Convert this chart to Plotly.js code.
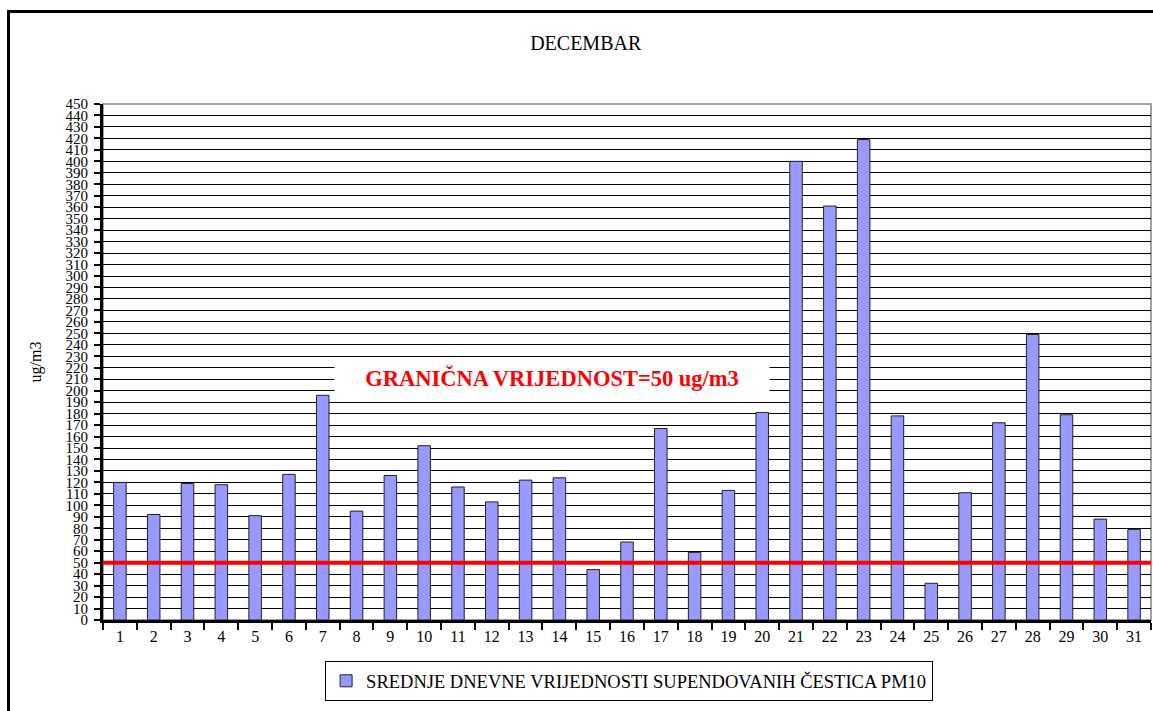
<!DOCTYPE html>
<html>
<head>
<meta charset="utf-8">
<script src="https://cdn.plot.ly/plotly-3.0.1.min.js"></script>
<style>
html,body{margin:0;padding:0;background:#fff;}
#chart{width:1153px;height:711px;}
#chart text{font-family:"Liberation Serif","Times New Roman",serif !important;}
</style>
</head>
<body>
<div id="chart"></div>
<script>
// ---- data ----
const days = ["1","2","3","4","5","6","7","8","9","10","11","12","13","14","15","16","17","18","19","20","21","22","23","24","25","26","27","28","29","30","31"];
const pm10 = [120,92,119,118,91,127,196,95,126,152,116,103,122,124,44,68,167,59,113,181,400,361,419,178,32,111,172,249,179,88,79];
const seriesName = "SREDNJE DNEVNE VRIJEDNOSTI SUPENDOVANIH ČESTICA PM10";
const chartTitle = "DECEMBAR";
const yTitle = "ug/m3";
const LIMIT = 50;
const limitLabel = "GRANIČNA VRIJEDNOST=50 ug/m3";
const yMax = 450;

const serif = "Times New Roman";

const trace = {
  type: "bar",
  x: days,
  y: pm10,
  name: seriesName,
  width: 0.37,
  marker: {color: "#9999FF", line: {color: "#222222", width: 1}},
  hoverinfo: "x+y"
};

const layout = {
  width: 1153,
  height: 711,
  font: {family: serif, size: 15, color: "#000"},
  paper_bgcolor: "#ffffff",
  plot_bgcolor: "#ffffff",
  margin: {l: 103, r: 2, t: 104, b: 91, pad: 0},
  showlegend: true,
  title: {
    text: chartTitle,
    font: {family: serif, size: 20, color: "#000"},
    x: 0.508, xanchor: "center",
    y: 1 - 43/711, yanchor: "middle", yref: "container"
  },
  xaxis: {
    type: "category",
    showgrid: false,
    showline: true, linecolor: "#000", linewidth: 3,
    ticks: "outside", tickson: "boundaries", ticklen: 7, tickwidth: 2, tickcolor: "#000",
    tickfont: {family: serif, size: 16, color: "#000"},
    tickangle: 0,
    zeroline: false,
    fixedrange: true
  },
  yaxis: {
    range: [0, yMax],
    dtick: 10,
    tick0: 0,
    showgrid: true, gridcolor: "#000", gridwidth: 1,
    showline: true, linecolor: "#000", linewidth: 3,
    ticks: "outside", ticklen: 6, tickwidth: 2, tickcolor: "#000",
    tickfont: {family: serif, size: 15, color: "#000"},
    ticklabelstandoff: 3,
    zeroline: false,
    title: {text: yTitle, font: {family: serif, size: 16, color: "#000"}, standoff: 20},
    fixedrange: true
  },
  legend: {
    orientation: "h",
    x: 0.502, xanchor: "center",
    y: -0.08, yanchor: "top",
    bgcolor: "#fff",
    bordercolor: "#000", borderwidth: 1,
    font: {family: serif, size: 18.5, color: "#000"},
    itemwidth: 30
  },
  shapes: [
    {type: "rect", xref: "paper", yref: "paper", x0: 0, x1: 1, y0: 0, y1: 1,
     line: {color: "#a0a0a0", width: 2}, layer: "below"},
    {type: "line", xref: "paper", yref: "y", x0: 0, x1: 1, y0: LIMIT, y1: LIMIT,
     line: {color: "#ff0000", width: 4}, layer: "above"}
  ],
  annotations: [
    {
      text: "<b>" + limitLabel + "</b>",
      xref: "paper", yref: "paper",
      x: (552 - 103) / 1048, y: (620 - 378) / 516,
      xanchor: "center", yanchor: "middle",
      showarrow: false,
      font: {family: serif, size: 22.5, color: "#ff0000"},
      bgcolor: "#ffffff",
      width: 430, height: 30, borderpad: 2
    }
  ]
};

Plotly.newPlot("chart", [trace], layout, {displayModeBar: false, staticPlot: true});
</script>
<div style="position:absolute;left:7px;top:10px;width:1160px;height:720px;border-left:3px solid #000;border-top:3px solid #000;pointer-events:none;"></div>
</body>
</html>
